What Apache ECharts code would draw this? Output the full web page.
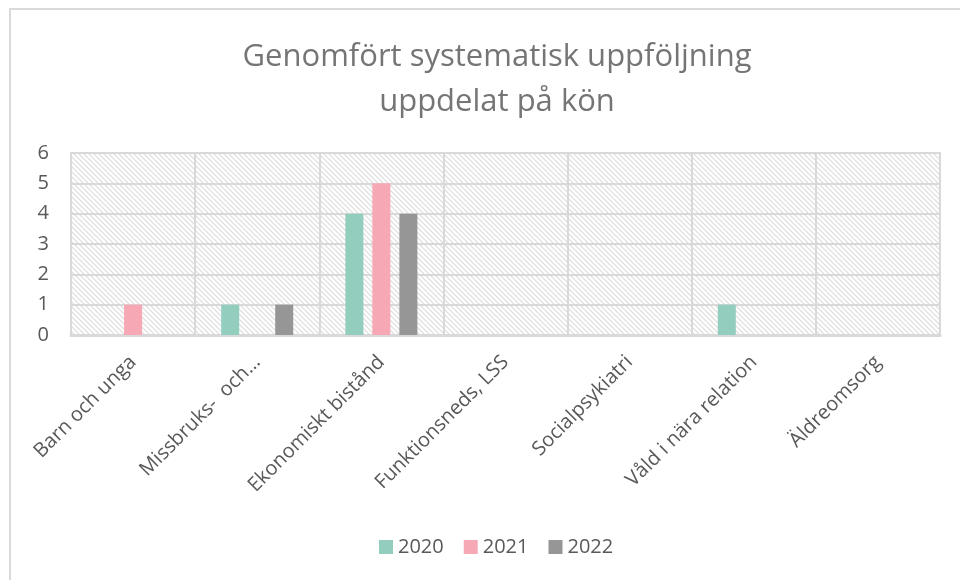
<!DOCTYPE html>
<html><head><meta charset="utf-8">
<script src="https://cdn.jsdelivr.net/npm/echarts@6/dist/echarts.min.js"></script>
<style>html,body{margin:0;padding:0;background:#fff}#c{width:960px;height:580px}</style>
</head><body><div id="c"></div>
<script>
const categories = ['Barn och unga','Missbruks-  och…','Ekonomiskt bistånd','Funktionsneds, LSS','Socialpsykiatri','Våld i nära relation','Äldreomsorg'];
const s2020 = [0,1,4,0,0,1,0];
const s2021 = [1,0,5,0,0,0,0];
const s2022 = [0,1,4,0,0,0,0];
const seriesNames = ['2020','2021','2022'];
const colors = ['#93cdbd','#f7a8b5','#969696'];

const pc = document.createElement('canvas');
pc.width = 5; pc.height = 5;
const g = pc.getContext('2d');
g.fillStyle = '#ffffff'; g.fillRect(0,0,5,5);
g.strokeStyle = '#dcdcdc'; g.lineWidth = 1.2;
g.beginPath();
g.moveTo(-1,-1); g.lineTo(6,6);
g.moveTo(-1,4); g.lineTo(1,6);
g.moveTo(4,-1); g.lineTo(6,1);
g.stroke();

const chart = echarts.init(document.getElementById('c'));
const font = '"Open Sans", "Liberation Sans", sans-serif';
const mk = (name, data, i) => ({
  name, type:'bar', data, barWidth:18, barGap:'50%',
  itemStyle:{color:colors[i]}
});
chart.setOption({
  animation:false,
  textStyle:{fontFamily:font},
  graphic:[{type:'rect', shape:{x:10,y:9,width:960,height:580}, style:{fill:'none', stroke:'#d9d9d9', lineWidth:2}, silent:true}],
  title:{text:'Genomfört systematisk uppföljning\nuppdelat på kön', left:492, top:30, textAlign:'center',
    textStyle:{fontFamily:font, fontSize:31, fontWeight:'normal', color:'#757575', lineHeight:45}},
  legend:{bottom:18, left:374, itemWidth:14, itemHeight:14, itemGap:20, icon:'rect',
    textStyle:{fontSize:20, color:'#595959', fontFamily:font}},
  grid:{left:71, right:20, top:153, bottom:245, show:true, backgroundColor:{image:pc, repeat:'repeat'}, borderColor:'#d9d9d9', borderWidth:2},
  xAxis:{type:'category', data:categories,
    axisLine:{lineStyle:{color:'#d9d9d9', width:3}}, axisTick:{show:false},
    splitLine:{show:true, lineStyle:{color:'#d9d9d9', width:2}},
    axisLabel:{rotate:45, fontSize:20, color:'#595959', margin:24, interval:0, fontFamily:font}},
  yAxis:{type:'value', min:0, max:6, interval:1,
    axisLine:{show:false}, axisTick:{show:false},
    splitLine:{lineStyle:{color:'#d9d9d9', width:2}},
    axisLabel:{fontSize:20, color:'#595959', margin:22, fontFamily:font}},
  series:[mk(seriesNames[0], s2020, 0), mk(seriesNames[1], s2021, 1), mk(seriesNames[2], s2022, 2)]
});
</script></body></html>
